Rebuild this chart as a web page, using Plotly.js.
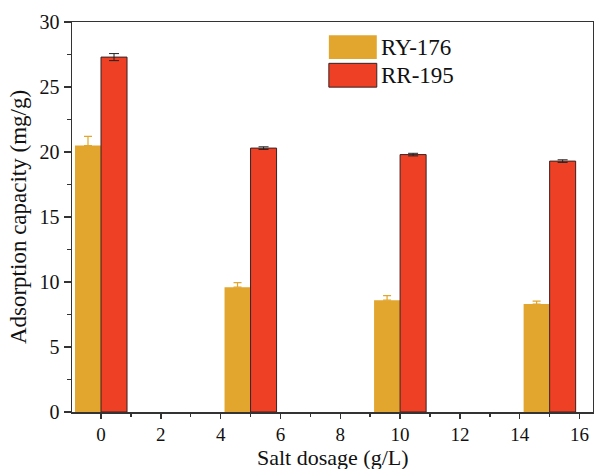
<!DOCTYPE html>
<html><head><meta charset="utf-8">
<script src="https://cdn.plot.ly/plotly-3.0.1.min.js"></script>
<style>html,body{margin:0;padding:0;background:#fff}#c{width:594px;height:469px}</style>
</head><body><div id="c"></div>
<script>
var saltDosage = [0, 5, 10, 15];
var ry176 = [20.5, 9.6, 8.6, 8.3];
var ry176Err = [0.7, 0.35, 0.35, 0.23];
var rr195 = [27.3, 20.3, 19.8, 19.3];
var rr195Err = [0.27, 0.1, 0.1, 0.1];
var xTicks = [0, 2, 4, 6, 8, 10, 12, 14, 16];
var yTicks = [0, 5, 10, 15, 20, 25, 30];

var FONT = "'Liberation Serif', 'Times New Roman', serif";
var BW = 0.87;
var traces = [
  {type:'bar', name:'RY-176', x:saltDosage, y:ry176, width:BW, offset:-BW,
   marker:{color:'#E2A62E', line:{width:0}},
   error_y:{type:'data', symmetric:false, array:ry176Err, arrayminus:[0,0,0,0], color:'#E2A62E', thickness:1.2, width:4}},
  {type:'bar', name:'RR-195', x:saltDosage, y:rr195, width:BW, offset:0,
   marker:{color:'#EE4024', line:{color:'#3a2020', width:1}},
   error_y:{type:'data', symmetric:true, array:rr195Err, color:'#222', thickness:1, width:5}}
];
var layout = {
  width:594, height:469,
  margin:{l:72, r:1, t:22, b:57},
  paper_bgcolor:'#fff', plot_bgcolor:'#fff',
  barmode:'overlay', showlegend:false,
  font:{family:FONT, size:20, color:'#111'},
  xaxis:{range:[-0.97, 16.45], tickvals:xTicks, ticktext:xTicks.map(String),
    ticks:'outside', ticklen:5, tickwidth:1.5, tickcolor:'#333',
    minor:{dtick:1, tick0:0, ticks:'outside', ticklen:3, tickwidth:1.5, tickcolor:'#333'},
    showline:true, linecolor:'#333', linewidth:1.5, mirror:true, showgrid:false, zeroline:false,
    tickfont:{family:FONT, size:19, color:'#111'}},
  yaxis:{range:[0,30], tickvals:yTicks, ticktext:yTicks.map(String),
    ticks:'outside', ticklen:7, tickwidth:1.5, tickcolor:'#333',
    minor:{dtick:2.5, tick0:0, ticks:'outside', ticklen:4, tickwidth:1.5, tickcolor:'#333'},
    showline:true, linecolor:'#333', linewidth:1.5, mirror:true, showgrid:false, zeroline:false,
    tickfont:{family:FONT, size:20, color:'#111'},
    title:{text:'Adsorption capacity (mg/g)', font:{family:FONT, size:23, color:'#111'}, standoff:6}},
  shapes:[
    {type:'rect', xref:'paper', yref:'paper', x0:0.493, x1:0.585, y0:0.905, y1:0.966, fillcolor:'#E2A62E', line:{width:0}},
    {type:'rect', xref:'paper', yref:'paper', x0:0.493, x1:0.585, y0:0.833, y1:0.894, fillcolor:'#EE4024', line:{color:'#3a2020', width:1}}
  ],
  annotations:[
    {xref:'paper', yref:'paper', x:0.59, y:0.935, xanchor:'left', yanchor:'middle', text:'RY-176', showarrow:false, font:{family:FONT, size:23, color:'#111'}},
    {xref:'paper', yref:'paper', x:0.59, y:0.863, xanchor:'left', yanchor:'middle', text:'RR-195', showarrow:false, font:{family:FONT, size:23, color:'#111'}},
    {xref:'paper', yref:'paper', x:0.5, y:0, xanchor:'center', yanchor:'top', yshift:-31, text:'Salt dosage (g/L)', showarrow:false, font:{family:FONT, size:22, color:'#111'}}
  ]
};
Plotly.newPlot('c', traces, layout, {displayModeBar:false, staticPlot:true});
</script></body></html>
